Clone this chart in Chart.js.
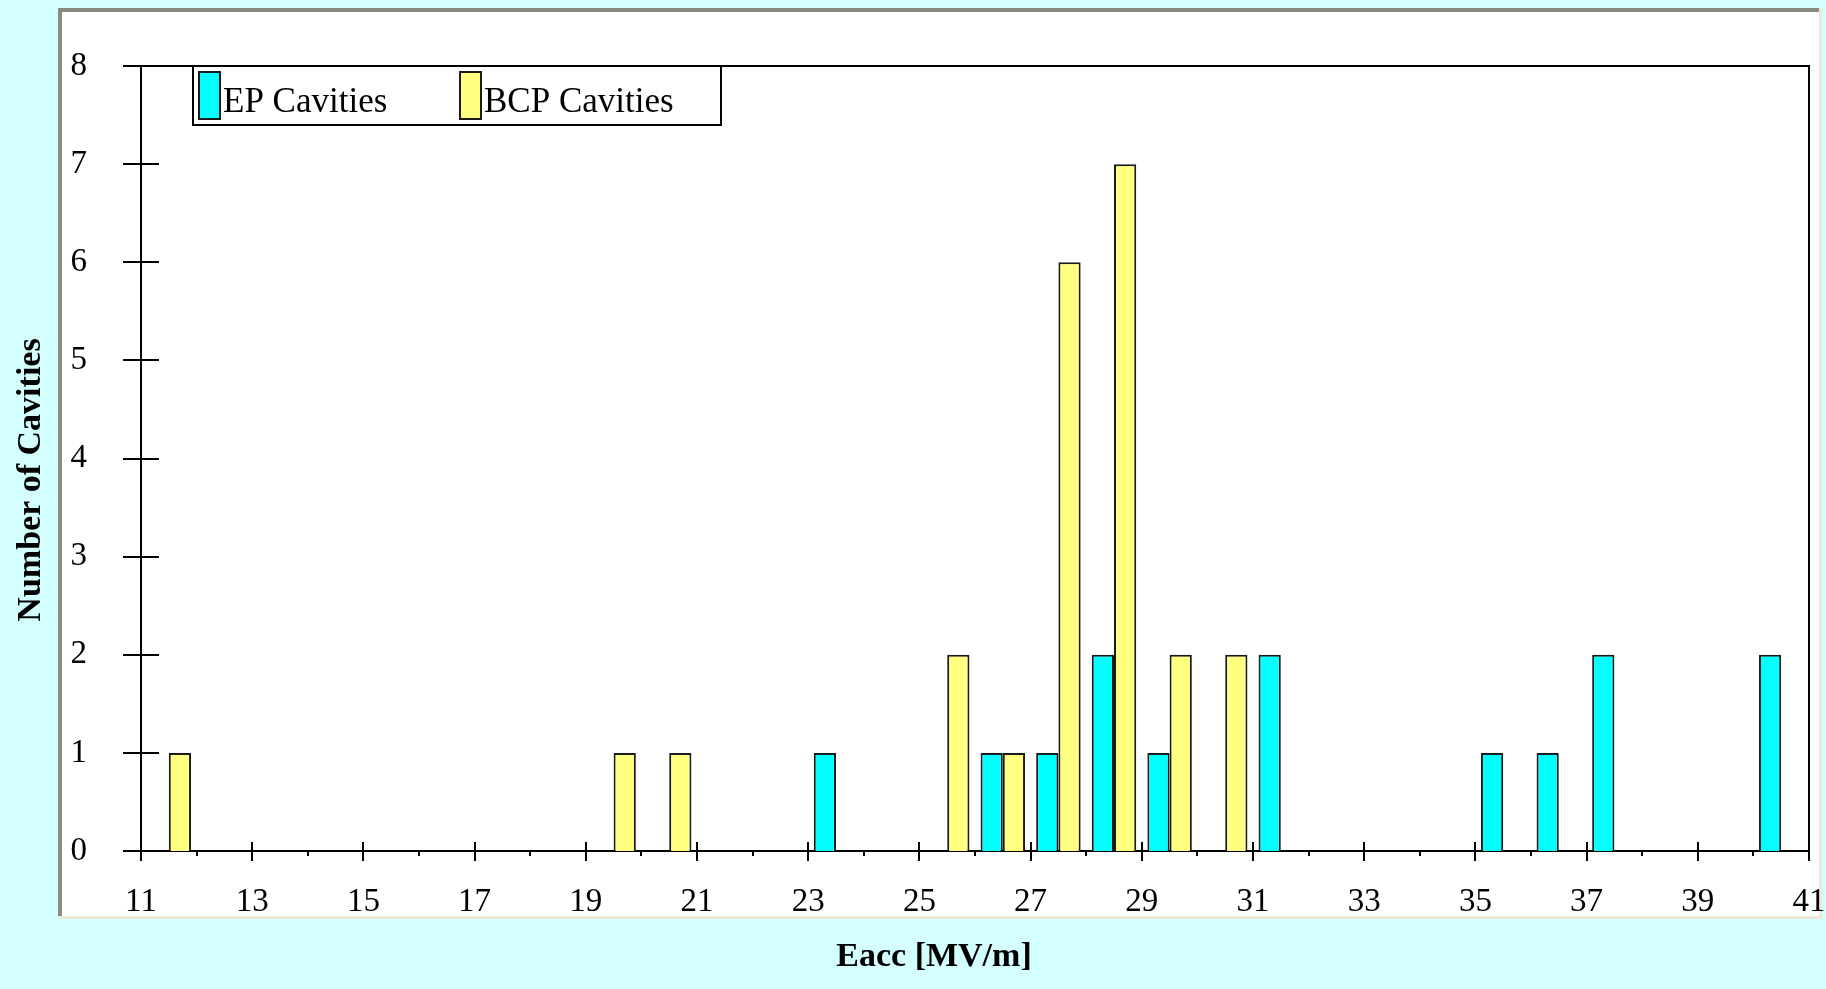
<!DOCTYPE html>
<html>
<head>
<meta charset="utf-8">
<title>Eacc histogram</title>
<script src="https://cdn.jsdelivr.net/npm/chart.js@4.4.1/dist/chart.umd.min.js"></script>
<style>
  body { margin: 0; background: #d4ffff; }
  #wrap { width: 1826px; height: 989px; position: relative; }
</style>
</head>
<body>
<div id="wrap"><canvas id="myChart"></canvas></div>
<script>
// bins (left edge of each 1 MV/m bin)
var bins = [11, 12, 13, 14, 15, 16, 17, 18, 19, 20, 21, 22, 23, 24, 25,
            26, 27, 28, 29, 30, 31, 32, 33, 34, 35, 36, 37, 38, 39, 40];

// counts per bin
var epCounts  = [0, 0, 0, 0, 0, 0, 0, 0, 0, 0, 0, 0, 1, 0, 0,
                 1, 1, 2, 1, 0, 2, 0, 0, 0, 1, 1, 2, 0, 0, 2];
var bcpCounts = [1, 0, 0, 0, 0, 0, 0, 0, 1, 1, 0, 0, 0, 0, 2,
                 1, 6, 7, 2, 2, 0, 0, 0, 0, 0, 0, 0, 0, 0, 0];

// tick labels
var xTickLabels = ['11', '13', '15', '17', '19', '21', '23', '25', '27', '29', '31', '33', '35', '37', '39', '41'];
var yTickLabels = ['0', '1', '2', '3', '4', '5', '6', '7', '8'];

var seriesNames = ['EP Cavities', 'BCP Cavities'];
var seriesColors = ['#00ffff', '#ffff80'];
var xTitle = 'Eacc [MV/m]';
var yTitle = 'Number of Cavities';

var serif = "'Liberation Serif', 'Times New Roman', serif";

function toPoints(counts) {
  return bins.map(function (b, i) {
    return { x: b + 0.5, y: counts[i] };
  });
}

// keep the plot box where the layout padding puts it
function noLabelPadding(scale) {
  scale.paddingLeft = 0;
  scale.paddingRight = 0;
  scale.paddingTop = 0;
  scale.paddingBottom = 0;
}

// Frame, cyan page, plot box lines, crossing tick marks, boxed legend, axis titles
var excelLook = {
  id: 'excelLook',
  beforeDraw: function (chart) {
    var c = chart.ctx;
    c.save();
    c.fillStyle = '#d4ffff';
    c.fillRect(0, 0, chart.width, chart.height);
    c.fillStyle = '#ffffff';
    c.fillRect(58, 8, 1764, 911);
    // 3d border
    c.fillStyle = '#8c8a7c';
    c.fillRect(58, 8, 1764, 4);
    c.fillRect(58, 8, 4, 911);
    c.fillStyle = '#ece9d8';
    c.fillRect(1819, 8, 3, 911);
    c.fillRect(58, 916, 1764, 3);
    c.restore();
  },
  afterDraw: function (chart) {
    var c = chart.ctx;
    var area = chart.chartArea;
    var xs = chart.scales.x;
    var ys = chart.scales.y;
    c.save();
    c.strokeStyle = '#000000';
    c.lineWidth = 2;

    // top + right of plot box
    c.beginPath();
    c.moveTo(area.left, area.top);
    c.lineTo(area.right, area.top);
    c.lineTo(area.right, area.bottom);
    c.stroke();

    // y ticks cross the axis
    c.beginPath();
    yTickLabels.forEach(function (t) {
      var py = Math.round(ys.getPixelForValue(Number(t)));
      c.moveTo(area.left - 18, py);
      c.lineTo(area.left + 18, py);
    });
    c.stroke();

    // x ticks: long at odd values, short at even
    c.beginPath();
    for (var v = 11; v <= 41; v++) {
      var px = Math.round(xs.getPixelForValue(v));
      if (v % 2 === 1) {
        c.moveTo(px, area.bottom - 9);
        c.lineTo(px, area.bottom + 10);
      } else {
        c.moveTo(px, area.bottom - 1);
        c.lineTo(px, area.bottom + 5);
      }
    }
    c.stroke();

    // legend
    var lx = area.left + 52, ly = area.top;
    c.fillStyle = '#ffffff';
    c.fillRect(lx, ly, 528, 59);
    c.strokeRect(lx, ly, 528, 59);
    c.font = '35px ' + serif;
    c.textBaseline = 'middle';
    c.textAlign = 'left';
    chart.data.datasets.forEach(function (ds, i) {
      var ix = lx + 6 + i * 261;
      c.fillStyle = ds.backgroundColor;
      c.fillRect(ix, ly + 6, 21, 47);
      c.strokeStyle = '#1a1a1a';
      c.strokeRect(ix, ly + 6, 21, 47);
      c.fillStyle = '#000000';
      c.fillText(ds.label, ix + 24, ly + 37);
    });

    // axis titles (centred on the frame, like the original)
    c.fillStyle = '#000000';
    c.font = 'bold 34px ' + serif;
    c.textAlign = 'center';
    c.textBaseline = 'middle';
    c.fillText(xTitle, 934, 957);
    c.translate(31, 480);
    c.rotate(-Math.PI / 2);
    c.fillText(yTitle, 0, 0);
    c.restore();
  }
};

var ctx = document.getElementById('myChart').getContext('2d');
var myChart = new Chart(ctx, {
  type: 'bar',
  data: {
    datasets: [
      {
        label: seriesNames[0],
        data: toPoints(epCounts),
        backgroundColor: seriesColors[0],
        borderColor: '#1a1a1a',
        borderWidth: 2
      },
      {
        label: seriesNames[1],
        data: toPoints(bcpCounts),
        backgroundColor: seriesColors[1],
        borderColor: '#1a1a1a',
        borderWidth: 2
      }
    ]
  },
  plugins: [excelLook],
  options: {
    responsive: true,
    maintainAspectRatio: false,
    animation: false,
    categoryPercentage: 0.8,
    barPercentage: 1.0,
    layout: { padding: { left: 0, top: 66, right: 17, bottom: 0 } },
    plugins: {
      legend: { display: false },
      tooltip: { enabled: false }
    },
    scales: {
      x: {
        type: 'linear',
        min: 11,
        max: 41,
        offset: false,
        grid: { display: false, drawTicks: false },
        border: { display: true, color: '#000000', width: 2 },
        ticks: {
          stepSize: 1,
          autoSkip: false,
          maxRotation: 0,
          padding: 32,
          color: '#000000',
          font: { family: serif, size: 33 },
          callback: function (value) {
            var s = String(value);
            return xTickLabels.indexOf(s) >= 0 ? s : '';
          }
        },
        afterFit: function (scale) {
          scale.height = 138;
          noLabelPadding(scale);
        }
      },
      y: {
        min: 0,
        max: 8,
        grid: { display: false, drawTicks: false },
        border: { display: true, color: '#000000', width: 2 },
        ticks: {
          stepSize: 1,
          padding: 54,
          color: '#000000',
          font: { family: serif, size: 33 },
          callback: function (value) {
            var s = String(value);
            return yTickLabels.indexOf(s) >= 0 ? s : '';
          }
        },
        afterFit: function (scale) {
          scale.width = 141;
          noLabelPadding(scale);
        }
      }
    }
  }
});
</script>
</body>
</html>
